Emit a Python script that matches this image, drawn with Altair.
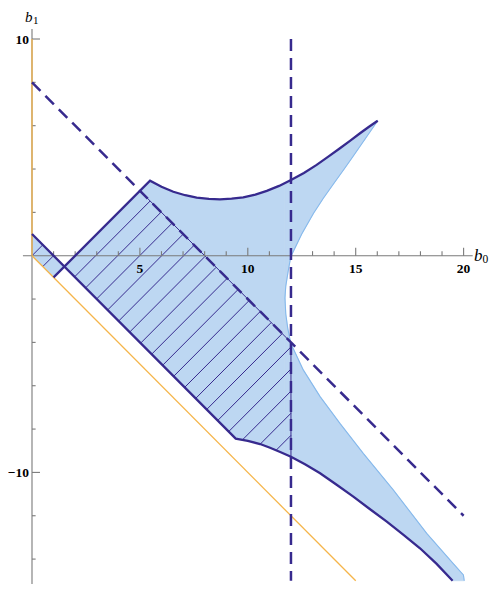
import altair as alt
import pandas as pd

# ---------------- data ----------------
# shaded region, split into pieces (x, lower edge, upper edge)
s_x = [0.0, 1.0, 1.5]
s_lo = [0.0, -1.0, -0.5]
s_hi = [1.0, 0.0, -0.5]

a_x = [1.5, 5.0, 5.47, 6.0, 6.55, 7.1, 7.63, 8.2, 8.71, 9.25, 9.44, 10.0, 10.57, 11.03, 11.45, 11.72]
a_hi = [-0.5, 3.0, 3.46, 3.18, 2.95, 2.79, 2.68, 2.62, 2.60, 2.63, 2.64, 2.74, 2.89, 3.05, 3.22, 3.35]
a_lo = [-0.5, -4.0, -4.47, -5.0, -5.55, -6.1, -6.63, -7.2, -7.71, -8.25, -8.44, -8.55, -8.69, -8.86, -9.04, -9.16]

b_x = [11.72, 11.76, 11.88, 11.99, 12.5, 13.04, 13.5, 13.96, 14.5, 14.89, 15.5, 16.02]
b_lo = [-1.95, -1.4, -0.66, -0.05, 1.0, 1.95, 2.65, 3.3, 4.05, 4.6, 5.48, 6.23]
b_hi = [3.35, 3.37, 3.43, 3.48, 3.77, 4.10, 4.41, 4.74, 5.13, 5.42, 5.87, 6.23]

c_x = [11.72, 11.76, 11.85, 11.99, 12.57, 13.35, 14.27, 15.35, 16.74, 18.29, 19.49, 19.99, 20.03]
c_hi = [-1.95, -2.69, -3.34, -4.04, -5.27, -6.5, -7.74, -9.12, -10.81, -12.81, -14.17, -14.73, -15.0]
c_lo = [-9.16, -9.18, -9.22, -9.28, -9.59, -10.04, -10.68, -11.46, -12.51, -13.79, -15.0, -15.0, -15.0]

# dark boundary curves
upper_x = [5.47, 6.0, 6.55, 7.1, 7.63, 8.2, 8.71, 9.25, 9.79, 10.35, 10.88, 11.45, 12.0, 12.6,
           13.19, 13.73, 14.27, 14.75, 15.2, 15.6, 16.02]
upper_y = [3.46, 3.18, 2.95, 2.79, 2.68, 2.62, 2.60, 2.63, 2.69, 2.82, 2.99, 3.22, 3.49, 3.82,
           4.19, 4.57, 4.96, 5.31, 5.65, 5.94, 6.23]
lower_x = [9.44, 10.0, 10.57, 11.03, 11.5, 12.0, 12.67, 13.35, 14.1, 14.89, 15.65, 16.44, 17.2,
           17.98, 18.75, 19.49]
lower_y = [-8.44, -8.55, -8.69, -8.86, -9.06, -9.28, -9.64, -10.04, -10.56, -11.12, -11.69,
           -12.27, -12.87, -13.5, -14.22, -15.0]

# hatch lines b1 = b0 - k
hatch_k_small = [0.0, 1.0]
hatch_k_main = [2.95, 3.97, 4.99, 6.01, 7.03, 8.05, 9.07, 10.09, 11.11, 12.13, 13.15, 14.17,
                15.19, 16.21, 17.23, 18.25, 19.27, 20.29]

# ticks and labels
x_major = [5, 10, 15, 20]
x_minor = [1, 2, 3, 4, 6, 7, 8, 9, 11, 12, 13, 14, 16, 17, 18, 19]
y_major = [-10, 10]
y_minor = [-14, -12, -8, -6, -4, -2, 2, 4, 6, 8]
x_labels = ["5", "10", "15", "20"]
y_labels = ["\u221210", "10"]

# ---------------- layout / style ----------------
W, H = 482, 576
X_MIN, X_MAX = -1.112, 21.223
Y_MAX = 11.431
Y_MIN = Y_MAX - H / 21.67
FILL = "#BDD7F2"
EDGE = "#86B9EC"
DARK = "#372A8E"
ORANGE = "#F5B54A"
GRAY = "#7a7a7a"
TICK_MAJ = 0.37
TICK_MIN = 0.21
LABEL_FONT = "Liberation Serif"

xsc = alt.Scale(domain=[X_MIN, X_MAX], nice=False, zero=False)
ysc = alt.Scale(domain=[Y_MIN, Y_MAX], nice=False, zero=False)


def X(f="x"):
    return alt.X(f"{f}:Q", scale=xsc, axis=None)


def Y(f="y"):
    return alt.Y(f"{f}:Q", scale=ysc, axis=None)


# ---------------- fills ----------------
rows = []
for name, xs, lo, hi in [("s", s_x, s_lo, s_hi), ("a", a_x, a_lo, a_hi),
                         ("b", b_x, b_lo, b_hi), ("c", c_x, c_lo, c_hi)]:
    for xv, l, h in zip(xs, lo, hi):
        rows.append({"x": xv, "lo": l, "hi": h, "piece": name})
fill_df = pd.DataFrame(rows)
fill = alt.Chart(fill_df).mark_area(color=FILL, stroke=FILL, strokeWidth=0.6, opacity=1,
                                    clip=True).encode(
    x=X(), y=Y("hi"), y2="lo:Q", detail="piece:N")

# light blue edge
edge_pts = list(zip(b_x[::-1], b_lo[::-1])) + list(zip(c_x[1:], c_hi[1:]))
edge_df = pd.DataFrame({"x": [p[0] for p in edge_pts], "y": [p[1] for p in edge_pts],
                        "o": list(range(len(edge_pts)))})
edge = alt.Chart(edge_df).mark_line(color=EDGE, strokeWidth=1.1, clip=True).encode(
    x=X(), y=Y(), order="o:Q")


# ---------------- hatch ----------------
def lower_at(xv):
    for i in range(len(lower_x) - 1):
        if lower_x[i] <= xv <= lower_x[i + 1]:
            t = (xv - lower_x[i]) / (lower_x[i + 1] - lower_x[i])
            return lower_y[i] + t * (lower_y[i + 1] - lower_y[i])
    return lower_y[-1]


hrows = []
for k in hatch_k_small:
    x1 = max(0.0, k / 2.0)
    x2 = (1.0 + k) / 2.0
    hrows.append({"x": x1, "y": x1 - k, "x2": x2, "y2": x2 - k})
for k in hatch_k_main:
    xu = (8.0 + k) / 2.0
    if xu <= 12.0:
        ux, uy = xu, 8.0 - xu
    else:
        ux, uy = 12.0, 12.0 - k
    xl = (1.0 + k) / 2.0
    if xl > lower_x[0]:
        a, b = lower_x[0], 12.0
        for _ in range(60):
            m = 0.5 * (a + b)
            if m - k - lower_at(m) < 0:
                a = m
            else:
                b = m
        xl = 0.5 * (a + b)
        ly = xl - k
    else:
        ly = 1.0 - xl
    hrows.append({"x": xl, "y": ly, "x2": ux, "y2": uy})
# thin edge of the hatched part
hrows.append({"x": 5.0, "y": 3.0, "x2": 12.0, "y2": -4.0})
hrows.append({"x": 12.0, "y": -4.0, "x2": 12.0, "y2": lower_at(12.0)})
hatch_df = pd.DataFrame(hrows)
hatch = alt.Chart(hatch_df).mark_rule(color=DARK, strokeWidth=1.0).encode(
    x=X(), y=Y(), x2="x2:Q", y2="y2:Q")

# ---------------- axes ----------------
axis_df = pd.DataFrame([
    {"x": -0.42, "y": 0.0, "x2": 20.42, "y2": 0.0},
    {"x": 0.0, "y": Y_MIN, "x2": 0.0, "y2": 10.46},
])
tick_rows = []
for v in x_major:
    tick_rows.append({"x": v, "y": 0.0, "x2": v, "y2": TICK_MAJ})
for v in x_minor:
    tick_rows.append({"x": v, "y": 0.0, "x2": v, "y2": TICK_MIN})
for v in y_major:
    tick_rows.append({"x": 0.0, "y": v, "x2": TICK_MAJ, "y2": v})
for v in y_minor:
    tick_rows.append({"x": 0.0, "y": v, "x2": TICK_MIN * 0.8, "y2": v})
axis_df = pd.concat([axis_df, pd.DataFrame(tick_rows)], ignore_index=True)
axes = alt.Chart(axis_df).mark_rule(color=GRAY, strokeWidth=1.1).encode(
    x=X(), y=Y(), x2="x2:Q", y2="y2:Q")

# ---------------- orange lines ----------------
orange_df = pd.DataFrame([
    {"x": 0.0, "y": 0.0, "x2": 0.0, "y2": 10.0},
    {"x": 0.0, "y": 0.0, "x2": 15.0, "y2": -15.0},
])
orange = alt.Chart(orange_df).mark_rule(color=ORANGE, strokeWidth=1.3, clip=True).encode(
    x=X(), y=Y(), x2="x2:Q", y2="y2:Q")

# ---------------- dark boundary lines ----------------
top_x = [1.0] + upper_x
top_y = [-1.0] + upper_y
bot_x = [0.0] + lower_x
bot_y = [1.0] + lower_y
dark_df = pd.concat([
    pd.DataFrame({"x": top_x, "y": top_y, "o": range(len(top_x)), "g": "top"}),
    pd.DataFrame({"x": bot_x, "y": bot_y, "o": range(len(bot_x)), "g": "bot"}),
], ignore_index=True)
dark = alt.Chart(dark_df).mark_line(color=DARK, strokeWidth=2.3, strokeJoin="miter",
                                    clip=True).encode(
    x=X(), y=Y(), order="o:Q", detail="g:N")

# ---------------- dashed lines ----------------
dash_df = pd.DataFrame([
    {"x": 0.0, "y": 8.0, "x2": 20.0, "y2": -12.0},
    {"x": 12.0, "y": 10.0, "x2": 12.0, "y2": -15.0},
])
dashed = alt.Chart(dash_df).mark_rule(color=DARK, strokeWidth=2.5, strokeDash=[12, 7],
                                      clip=True).encode(
    x=X(), y=Y(), x2="x2:Q", y2="y2:Q")

# ---------------- text ----------------
xl_df = pd.DataFrame({"x": x_major, "y": [0.0] * 4, "t": x_labels})
xlab = alt.Chart(xl_df).mark_text(font=LABEL_FONT, fontWeight="bold", fontSize=13.5,
                                  align="center", baseline="alphabetic", dy=17,
                                  color="black").encode(x=X(), y=Y(), text="t:N")
yl_df = pd.DataFrame({"x": [0.0, 0.0], "y": y_major, "t": y_labels})
ylab = alt.Chart(yl_df).mark_text(font=LABEL_FONT, fontWeight="bold", fontSize=13.5,
                                  align="right", baseline="alphabetic", dx=-3, dy=4.5,
                                  color="black").encode(x=X(), y=Y(), text="t:N")

b1_b = alt.Chart(pd.DataFrame({"x": [0.0], "y": [10.0], "t": ["b"]})).mark_text(
    font="Liberation Serif", fontStyle="italic", fontSize=15, align="left",
    baseline="alphabetic", dx=-7, dy=-17.3, color="black").encode(x=X(), y=Y(), text="t:N")
b1_s = alt.Chart(pd.DataFrame({"x": [0.0], "y": [10.0], "t": ["1"]})).mark_text(
    font="Liberation Serif", fontSize=11, align="left",
    baseline="alphabetic", dx=1.0, dy=-15.5, color="black").encode(x=X(), y=Y(), text="t:N")
b0_b = alt.Chart(pd.DataFrame({"x": [20.0], "y": [0.0], "t": ["b"]})).mark_text(
    font="Liberation Serif", fontStyle="italic", fontSize=17, align="left",
    baseline="alphabetic", dx=10.5, dy=5, color="black").encode(x=X(), y=Y(), text="t:N")
b0_s = alt.Chart(pd.DataFrame({"x": [20.0], "y": [0.0], "t": ["0"]})).mark_text(
    font="Liberation Serif", fontSize=11.5, align="left",
    baseline="alphabetic", dx=19, dy=7.6, color="black").encode(x=X(), y=Y(), text="t:N")

chart = alt.layer(
    fill, edge, hatch, axes, orange, dark, dashed, xlab, ylab, b1_b, b1_s, b0_b, b0_s
).properties(
    width=W, height=H, padding=0, background="white",
    autosize=alt.AutoSizeParams(type="none"),
).configure_view(stroke=None)

chart.save("out.html", embed_options={"renderer": "svg", "actions": False})
